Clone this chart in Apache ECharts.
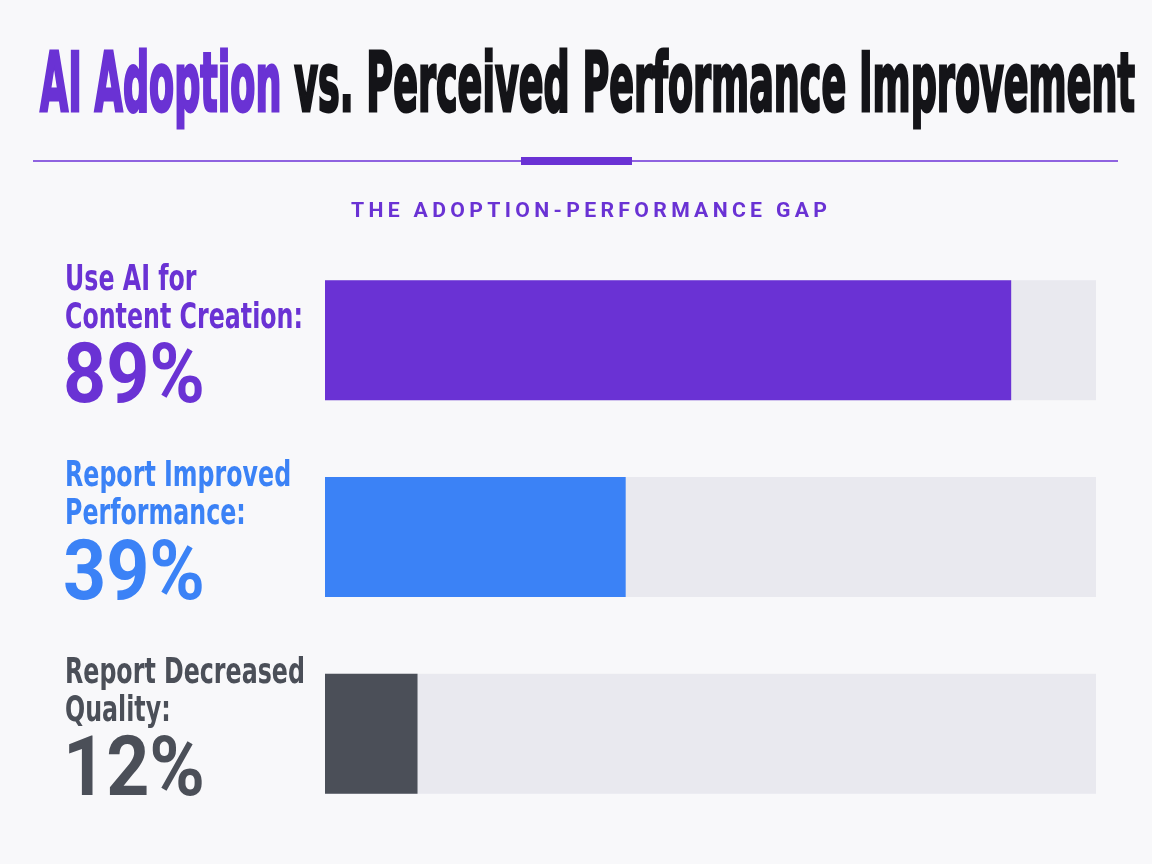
<!DOCTYPE html>
<html>
<head>
<meta charset="utf-8">
<script src="https://cdn.jsdelivr.net/npm/echarts@6/dist/echarts.min.js"></script>
<style>
  html, body { margin: 0; padding: 0; background: #f8f8fa; }
  #chart { width: 1152px; height: 864px; }
</style>
</head>
<body>
<div id="chart"></div>
<script>
// data
const categories = ['Use AI for\nContent Creation:', 'Report Improved\nPerformance:', 'Report Decreased\nQuality:'];
const values = [89, 39, 12];
const titleMain = 'AI Adoption';
const titleRest = 'vs. Perceived Performance Improvement';
const subtitle = 'THE ADOPTION-PERFORMANCE GAP';

// styles
const barColors = ['#6a32d4', '#3b82f6', '#4b4f58'];
const sans = "'DejaVu Sans Condensed', 'DejaVu Sans', sans-serif";

// measure text, the condensed look is made with scaleX
function measure(text, font) {
  const ctx = document.createElement('canvas').getContext('2d');
  ctx.font = font;
  return ctx.measureText(text).width;
}
const titleFont = 'bold 82px ' + sans;
const titleScale = 1095 / measure(titleMain + ' ' + titleRest, titleFont);

const subSpaced = subtitle.split('').join('\u2009');
const subFont = 'bold 21px Roboto, sans-serif';
const subScale = 476 / measure(subSpaced, subFont);

const nameFont = 'bold 36px ' + sans;
const nameScale = 238 / measure('Content Creation:', nameFont);
const valFont = 'bold 83px Roboto, sans-serif';
const valScale = 142 / measure('89%', valFont);

const chart = echarts.init(document.getElementById('chart'));

const option = {
  backgroundColor: '#f8f8fa',
  animation: false,
  grid: { left: 325, right: 56, top: 242, height: 590 },
  xAxis: { type: 'value', min: 0, max: 100, show: false },
  yAxis: {
    type: 'category',
    data: categories,
    inverse: true,
    axisLine: { show: false },
    axisTick: { show: false },
    axisLabel: { show: false }
  },
  series: [{
    type: 'bar',
    data: values,
    barWidth: 120,
    showBackground: true,
    backgroundStyle: { color: '#e9e9ef' },
    itemStyle: { color: p => barColors[p.dataIndex] }
  }],
  graphic: [
    {
      type: 'text',
      x: 40, y: 90,
      scaleX: titleScale,
      style: {
        text: '{a|' + titleMain + '} {b|' + titleRest + '}',
        verticalAlign: 'middle',
        font: titleFont,
        rich: {
          a: { fill: '#6a32d4', font: titleFont, stroke: '#6a32d4', lineWidth: 3 },
          b: { fill: '#141418', font: titleFont, stroke: '#141418', lineWidth: 3 }
        }
      }
    },
    { type: 'rect', shape: { x: 33, y: 160, width: 1085, height: 2 }, style: { fill: '#8f63e0' } },
    { type: 'rect', shape: { x: 521, y: 157, width: 111, height: 8 }, style: { fill: '#6a32d4' } },
    {
      type: 'text',
      x: 351, y: 212,
      scaleX: subScale,
      style: { text: subSpaced, font: subFont, fill: '#6a32d4', verticalAlign: 'middle' }
    }
  ]
};
chart.setOption(option);

// left labels, placed at each category's position on the y axis
const labels = [];
categories.forEach((c, i) => {
  const yc = chart.convertToPixel({ yAxisIndex: 0 }, i);
  labels.push({
    type: 'text',
    x: 65, y: yc - 41,
    scaleX: nameScale,
    style: {
      text: c, font: nameFont, fill: barColors[i],
      lineHeight: 38, verticalAlign: 'middle'
    }
  });
  labels.push({
    type: 'text',
    x: 63, y: yc + 41,
    scaleX: valScale,
    style: {
      text: values[i] + '%', font: valFont, fill: barColors[i],
      verticalAlign: 'middle'
    }
  });
});
chart.setOption({ graphic: option.graphic.concat(labels) });
</script>
</body>
</html>
